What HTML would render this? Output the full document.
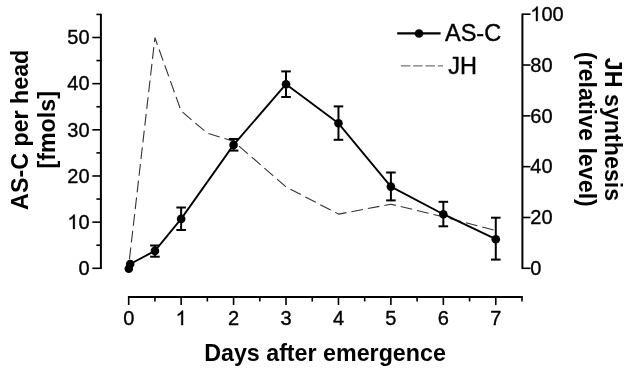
<!DOCTYPE html>
<html><head><meta charset="utf-8"><style>
html,body{margin:0;padding:0;background:#fff;}
svg{display:block;will-change:transform;}
.tk{font-family:"Liberation Sans",sans-serif;font-size:20px;fill:#000;stroke:#000;stroke-width:0.35px;}
.lg{font-family:"Liberation Sans",sans-serif;font-size:23.5px;fill:#000;stroke:#000;stroke-width:0.4px;}
.ti{font-family:"Liberation Sans",sans-serif;font-size:23.25px;font-weight:bold;fill:#000;}
</style></head><body>
<svg width="629" height="371" viewBox="0 0 629 371">
<rect width="629" height="371" fill="#fff"/>
<line x1="100.9" y1="13.7" x2="100.9" y2="269.1" stroke="#000" stroke-width="2.0"/>
<line x1="92.3" y1="268.30" x2="100.9" y2="268.30" stroke="#000" stroke-width="1.6"/>
<line x1="96.4" y1="245.22" x2="100.9" y2="245.22" stroke="#000" stroke-width="1.6"/>
<line x1="92.3" y1="222.14" x2="100.9" y2="222.14" stroke="#000" stroke-width="1.6"/>
<line x1="96.4" y1="199.06" x2="100.9" y2="199.06" stroke="#000" stroke-width="1.6"/>
<line x1="92.3" y1="175.98" x2="100.9" y2="175.98" stroke="#000" stroke-width="1.6"/>
<line x1="96.4" y1="152.90" x2="100.9" y2="152.90" stroke="#000" stroke-width="1.6"/>
<line x1="92.3" y1="129.82" x2="100.9" y2="129.82" stroke="#000" stroke-width="1.6"/>
<line x1="96.4" y1="106.74" x2="100.9" y2="106.74" stroke="#000" stroke-width="1.6"/>
<line x1="92.3" y1="83.66" x2="100.9" y2="83.66" stroke="#000" stroke-width="1.6"/>
<line x1="96.4" y1="60.58" x2="100.9" y2="60.58" stroke="#000" stroke-width="1.6"/>
<line x1="92.3" y1="37.50" x2="100.9" y2="37.50" stroke="#000" stroke-width="1.6"/>
<line x1="96.4" y1="14.42" x2="100.9" y2="14.42" stroke="#000" stroke-width="1.6"/>
<text x="89.6" y="275.10" text-anchor="end" class="tk">0</text>
<path transform="translate(67.36,228.94) scale(0.009766,-0.009766)" d="M763 0L583 0L583 1147Q518 1085 413 1023Q308 961 223 930L223 1104Q375 1175 488 1276Q601 1377 648 1472L763 1472Z" fill="#000" stroke="#000" stroke-width="35.8"/>
<text x="89.6" y="228.94" text-anchor="end" class="tk">0</text>
<text x="89.6" y="182.78" text-anchor="end" class="tk">20</text>
<text x="89.6" y="136.62" text-anchor="end" class="tk">30</text>
<text x="89.6" y="90.46" text-anchor="end" class="tk">40</text>
<text x="89.6" y="44.30" text-anchor="end" class="tk">50</text>
<line x1="522.4" y1="13.399999999999999" x2="522.4" y2="269.1" stroke="#000" stroke-width="2.0"/>
<line x1="522.4" y1="268.30" x2="530.5" y2="268.30" stroke="#000" stroke-width="1.6"/>
<text x="530.3" y="275.10" class="tk">0</text>
<line x1="522.4" y1="217.48" x2="530.5" y2="217.48" stroke="#000" stroke-width="1.6"/>
<text x="530.3" y="224.28" class="tk">20</text>
<line x1="522.4" y1="166.66" x2="530.5" y2="166.66" stroke="#000" stroke-width="1.6"/>
<text x="530.3" y="173.46" class="tk">40</text>
<line x1="522.4" y1="115.84" x2="530.5" y2="115.84" stroke="#000" stroke-width="1.6"/>
<text x="530.3" y="122.64" class="tk">60</text>
<line x1="522.4" y1="65.02" x2="530.5" y2="65.02" stroke="#000" stroke-width="1.6"/>
<text x="530.3" y="71.82" class="tk">80</text>
<line x1="522.4" y1="14.20" x2="530.5" y2="14.20" stroke="#000" stroke-width="1.6"/>
<path transform="translate(530.30,21.00) scale(0.009766,-0.009766)" d="M763 0L583 0L583 1147Q518 1085 413 1023Q308 961 223 930L223 1104Q375 1175 488 1276Q601 1377 648 1472L763 1472Z" fill="#000" stroke="#000" stroke-width="35.8"/>
<text x="541.42" y="21.00" class="tk">00</text>
<line x1="127.90" y1="297" x2="522.80" y2="297" stroke="#000" stroke-width="2.0"/>
<line x1="128.70" y1="297" x2="128.70" y2="305" stroke="#000" stroke-width="1.6"/>
<text x="128.70" y="325" text-anchor="middle" class="tk">0</text>
<line x1="154.92" y1="297" x2="154.92" y2="301.5" stroke="#000" stroke-width="1.6"/>
<line x1="181.14" y1="297" x2="181.14" y2="305" stroke="#000" stroke-width="1.6"/>
<path transform="translate(175.58,325.00) scale(0.009766,-0.009766)" d="M763 0L583 0L583 1147Q518 1085 413 1023Q308 961 223 930L223 1104Q375 1175 488 1276Q601 1377 648 1472L763 1472Z" fill="#000" stroke="#000" stroke-width="35.8"/>
<line x1="207.36" y1="297" x2="207.36" y2="301.5" stroke="#000" stroke-width="1.6"/>
<line x1="233.58" y1="297" x2="233.58" y2="305" stroke="#000" stroke-width="1.6"/>
<text x="233.58" y="325" text-anchor="middle" class="tk">2</text>
<line x1="259.80" y1="297" x2="259.80" y2="301.5" stroke="#000" stroke-width="1.6"/>
<line x1="286.02" y1="297" x2="286.02" y2="305" stroke="#000" stroke-width="1.6"/>
<text x="286.02" y="325" text-anchor="middle" class="tk">3</text>
<line x1="312.24" y1="297" x2="312.24" y2="301.5" stroke="#000" stroke-width="1.6"/>
<line x1="338.46" y1="297" x2="338.46" y2="305" stroke="#000" stroke-width="1.6"/>
<text x="338.46" y="325" text-anchor="middle" class="tk">4</text>
<line x1="364.68" y1="297" x2="364.68" y2="301.5" stroke="#000" stroke-width="1.6"/>
<line x1="390.90" y1="297" x2="390.90" y2="305" stroke="#000" stroke-width="1.6"/>
<text x="390.90" y="325" text-anchor="middle" class="tk">5</text>
<line x1="417.12" y1="297" x2="417.12" y2="301.5" stroke="#000" stroke-width="1.6"/>
<line x1="443.34" y1="297" x2="443.34" y2="305" stroke="#000" stroke-width="1.6"/>
<text x="443.34" y="325" text-anchor="middle" class="tk">6</text>
<line x1="469.56" y1="297" x2="469.56" y2="301.5" stroke="#000" stroke-width="1.6"/>
<line x1="495.78" y1="297" x2="495.78" y2="305" stroke="#000" stroke-width="1.6"/>
<text x="495.78" y="325" text-anchor="middle" class="tk">7</text>
<line x1="522.00" y1="297" x2="522.00" y2="301.5" stroke="#000" stroke-width="1.6"/>
<path d="M128.70,265.70 L154.92,37.80 L181.14,111.00 L207.36,133.20 L233.58,141.30 L286.02,186.90 L338.46,214.10 L390.90,204.20 L443.34,216.80 L495.78,230.50" fill="none" stroke="#333" stroke-width="1.1" stroke-dasharray="11.8 5.0" stroke-dashoffset="10.2" stroke-linejoin="round"/>
<path d="M130.20,264.00 L154.92,250.90 L181.14,218.90 L233.58,144.90 L286.02,84.20 L338.46,123.30 L390.90,186.60 L443.34,214.20 L495.78,239.20" fill="none" stroke="#000" stroke-width="1.85" stroke-linejoin="round"/>
<line x1="154.92" y1="245.5" x2="154.92" y2="256.7" stroke="#000" stroke-width="2"/>
<line x1="150.12" y1="245.5" x2="159.72" y2="245.5" stroke="#000" stroke-width="2"/>
<line x1="150.12" y1="256.7" x2="159.72" y2="256.7" stroke="#000" stroke-width="2"/>
<line x1="181.14" y1="207.5" x2="181.14" y2="230.0" stroke="#000" stroke-width="2"/>
<line x1="176.34" y1="207.5" x2="185.94" y2="207.5" stroke="#000" stroke-width="2"/>
<line x1="176.34" y1="230.0" x2="185.94" y2="230.0" stroke="#000" stroke-width="2"/>
<line x1="233.58" y1="139.0" x2="233.58" y2="150.6" stroke="#000" stroke-width="2"/>
<line x1="228.78" y1="139.0" x2="238.38" y2="139.0" stroke="#000" stroke-width="2"/>
<line x1="228.78" y1="150.6" x2="238.38" y2="150.6" stroke="#000" stroke-width="2"/>
<line x1="286.02" y1="71.4" x2="286.02" y2="97.0" stroke="#000" stroke-width="2"/>
<line x1="281.22" y1="71.4" x2="290.82" y2="71.4" stroke="#000" stroke-width="2"/>
<line x1="281.22" y1="97.0" x2="290.82" y2="97.0" stroke="#000" stroke-width="2"/>
<line x1="338.46" y1="106.4" x2="338.46" y2="139.8" stroke="#000" stroke-width="2"/>
<line x1="333.66" y1="106.4" x2="343.26" y2="106.4" stroke="#000" stroke-width="2"/>
<line x1="333.66" y1="139.8" x2="343.26" y2="139.8" stroke="#000" stroke-width="2"/>
<line x1="390.90" y1="172.5" x2="390.90" y2="200.4" stroke="#000" stroke-width="2"/>
<line x1="386.10" y1="172.5" x2="395.70" y2="172.5" stroke="#000" stroke-width="2"/>
<line x1="386.10" y1="200.4" x2="395.70" y2="200.4" stroke="#000" stroke-width="2"/>
<line x1="443.34" y1="201.8" x2="443.34" y2="226.3" stroke="#000" stroke-width="2"/>
<line x1="438.54" y1="201.8" x2="448.14" y2="201.8" stroke="#000" stroke-width="2"/>
<line x1="438.54" y1="226.3" x2="448.14" y2="226.3" stroke="#000" stroke-width="2"/>
<line x1="495.78" y1="217.7" x2="495.78" y2="259.6" stroke="#000" stroke-width="2"/>
<line x1="490.98" y1="217.7" x2="500.58" y2="217.7" stroke="#000" stroke-width="2"/>
<line x1="490.98" y1="259.6" x2="500.58" y2="259.6" stroke="#000" stroke-width="2"/>
<circle cx="128.80" cy="268.80" r="4.3" fill="#000"/>
<circle cx="130.20" cy="264.00" r="4.3" fill="#000"/>
<circle cx="154.92" cy="250.90" r="4.3" fill="#000"/>
<circle cx="181.14" cy="218.90" r="4.3" fill="#000"/>
<circle cx="233.58" cy="144.90" r="4.3" fill="#000"/>
<circle cx="286.02" cy="84.20" r="4.3" fill="#000"/>
<circle cx="338.46" cy="123.30" r="4.3" fill="#000"/>
<circle cx="390.90" cy="186.60" r="4.3" fill="#000"/>
<circle cx="443.34" cy="214.20" r="4.3" fill="#000"/>
<circle cx="495.78" cy="239.20" r="4.3" fill="#000"/>
<line x1="397.2" y1="33.4" x2="440.6" y2="33.4" stroke="#000" stroke-width="2.4"/>
<circle cx="419" cy="33.5" r="4.3" fill="#000"/>
<text x="445" y="41" class="lg">AS-C</text>
<line x1="400.8" y1="65.8" x2="443" y2="65.8" stroke="#777" stroke-width="1.2" stroke-dasharray="9.6 2.7"/>
<text x="448.3" y="74" class="lg">JH</text>
<text x="325" y="361" text-anchor="middle" class="ti">Days after emergence</text>
<text transform="translate(28.2,129.8) rotate(-90)" text-anchor="middle" class="ti">AS-C per head</text>
<text transform="translate(54.5,129.8) rotate(-90)" text-anchor="middle" class="ti">[fmols]</text>
<text transform="translate(605,129.5) rotate(90)" text-anchor="middle" class="ti">JH synthesis</text>
<text transform="translate(579,129.3) rotate(90)" text-anchor="middle" class="ti">(relative level)</text>
</svg>
</body></html>
